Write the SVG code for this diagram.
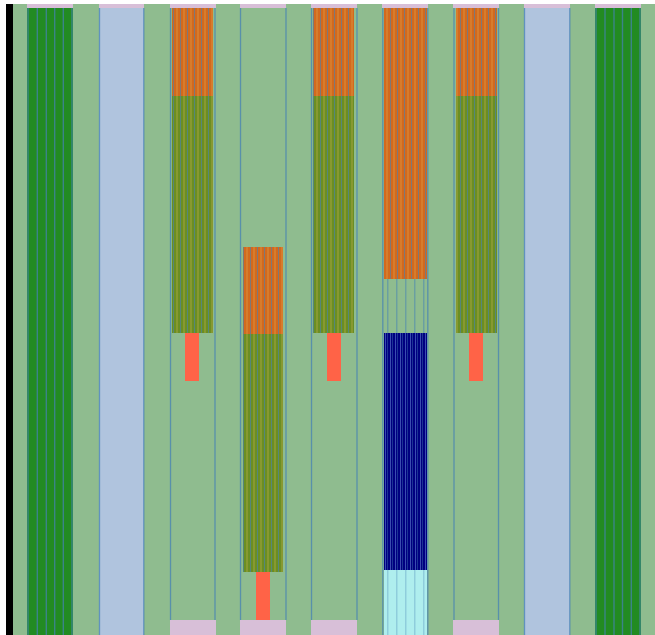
<svg xmlns="http://www.w3.org/2000/svg" width="655" height="635" viewBox="0 0 655 635">
<style>
.edge{stroke:#4682B4;stroke-width:1.3;stroke-opacity:0.75;fill:none}
.fg{stroke:#4682B4;stroke-width:1.4;stroke-opacity:0.7}
.pink{fill:#D8BFD8}
.orange{fill:#D2691E}
.olive{fill:#6B8E23}
.tomato{fill:#FF6347}
.navy{fill:#000080}
.turq{fill:#AFEEEE}
.lsb{fill:#B0C4DE}
.forest{fill:#228B22}
</style>
<defs>
<pattern id="stripes" patternUnits="userSpaceOnUse" x="172" y="0" width="7" height="20">
<rect x="1" y="0" width="1" height="20" fill="#4682B4" fill-opacity="0.6"/>
<rect x="4.5" y="0" width="1" height="20" fill="#E8C060" fill-opacity="0.45"/>
</pattern>
<pattern id="navystripes" patternUnits="userSpaceOnUse" x="384" y="0" width="5" height="20">
<rect x="1" y="0" width="1" height="20" fill="#6A8AD8" fill-opacity="0.55"/>
<rect x="3.2" y="0" width="0.8" height="20" fill="#4682B4" fill-opacity="0.5"/>
</pattern>
<pattern id="bluestripes" patternUnits="userSpaceOnUse" x="384" y="0" width="9" height="20">
<rect x="3" y="0" width="1.5" height="20" fill="#4682B4" fill-opacity="0.5"/>
</pattern>
</defs>
<rect x="0" y="0" width="655" height="635" fill="#ffffff"/>
<rect x="13" y="4" width="642" height="631" fill="#8FBC8F"/>
<rect x="6" y="4" width="7" height="631" fill="#000000"/>

<g id="col1">
<rect class="forest" x="27" y="8" width="46" height="627"/>
<line class="fg" x1="28" y1="8" x2="28" y2="635"/>
<line class="fg" x1="37.3" y1="8" x2="37.3" y2="635"/>
<line class="fg" x1="46.3" y1="8" x2="46.3" y2="635"/>
<line class="fg" x1="54.7" y1="8" x2="54.7" y2="635"/>
<line class="fg" x1="63.3" y1="8" x2="63.3" y2="635"/>
<line class="fg" x1="72" y1="8" x2="72" y2="635"/>
<rect class="pink" x="27" y="4" width="46" height="4"/>
</g>

<g id="col2">
<rect class="lsb" x="99" y="8" width="45" height="627"/>
<line class="edge" x1="99.5" y1="8" x2="99.5" y2="635"/>
<line class="edge" x1="143.8" y1="8" x2="143.8" y2="635"/>
<rect class="pink" x="99" y="4" width="45" height="4"/>
</g>

<g id="col3">
<rect class="orange" x="172" y="8" width="41" height="88"/>
<rect class="olive" x="172" y="96" width="41" height="237"/>
<rect x="172" y="8" width="41" height="325" fill="url(#stripes)"/>
<rect class="tomato" x="185" y="333" width="14" height="48"/>
<line class="edge" x1="170.5" y1="8" x2="170.5" y2="620"/>
<line class="edge" x1="215" y1="8" x2="215" y2="620"/>
<rect class="pink" x="170" y="4" width="46" height="4"/>
<rect class="pink" x="170" y="620" width="46" height="15"/>
</g>

<g id="col4">
<rect class="orange" x="243" y="247" width="40" height="87"/>
<rect class="olive" x="243" y="334" width="40" height="238"/>
<rect x="243" y="247" width="40" height="325" fill="url(#stripes)"/>
<rect class="tomato" x="256" y="572" width="14" height="48"/>
<line class="edge" x1="240.5" y1="8" x2="240.5" y2="620"/>
<line class="edge" x1="286" y1="8" x2="286" y2="620"/>
<rect class="pink" x="240" y="4" width="46" height="4"/>
<rect class="pink" x="240" y="620" width="46" height="15"/>
</g>

<g id="col5">
<rect class="orange" x="313" y="8" width="41" height="88"/>
<rect class="olive" x="313" y="96" width="41" height="237"/>
<rect x="313" y="8" width="41" height="325" fill="url(#stripes)"/>
<rect class="tomato" x="327" y="333" width="14" height="48"/>
<line class="edge" x1="311.5" y1="8" x2="311.5" y2="620"/>
<line class="edge" x1="357" y1="8" x2="357" y2="620"/>
<rect class="pink" x="311" y="4" width="46" height="4"/>
<rect class="pink" x="311" y="620" width="46" height="15"/>
</g>

<g id="col6">
<rect class="orange" x="384" y="8" width="43" height="271"/>
<rect x="384" y="8" width="43" height="271" fill="url(#stripes)"/>
<rect x="384" y="279" width="43" height="54" fill="url(#bluestripes)"/>
<rect class="navy" x="384" y="333" width="43" height="237"/>
<rect x="384" y="333" width="43" height="237" fill="url(#navystripes)"/>
<rect class="turq" x="384" y="570" width="43" height="65"/>
<rect x="384" y="570" width="43" height="65" fill="url(#bluestripes)" opacity="0.6"/>
<line class="edge" x1="382.8" y1="8" x2="382.8" y2="635"/>
<line class="edge" x1="427.8" y1="8" x2="427.8" y2="635"/>
<rect class="pink" x="382" y="4" width="46" height="4"/>
</g>

<g id="col7">
<rect class="orange" x="456" y="8" width="41" height="88"/>
<rect class="olive" x="456" y="96" width="41" height="237"/>
<rect x="456" y="8" width="41" height="325" fill="url(#stripes)"/>
<rect class="tomato" x="469" y="333" width="14" height="48"/>
<line class="edge" x1="454" y1="8" x2="454" y2="620"/>
<line class="edge" x1="498.5" y1="8" x2="498.5" y2="620"/>
<rect class="pink" x="453" y="4" width="46" height="4"/>
<rect class="pink" x="453" y="620" width="46" height="15"/>
</g>

<g id="col8">
<rect class="lsb" x="524" y="8" width="46" height="627"/>
<line class="edge" x1="524.5" y1="8" x2="524.5" y2="635"/>
<line class="edge" x1="569.8" y1="8" x2="569.8" y2="635"/>
<rect class="pink" x="524" y="4" width="46" height="4"/>
</g>

<g id="col9">
<rect class="forest" x="595" y="8" width="46" height="627"/>
<line class="fg" x1="596" y1="8" x2="596" y2="635"/>
<line class="fg" x1="605" y1="8" x2="605" y2="635"/>
<line class="fg" x1="614" y1="8" x2="614" y2="635"/>
<line class="fg" x1="622.5" y1="8" x2="622.5" y2="635"/>
<line class="fg" x1="631.3" y1="8" x2="631.3" y2="635"/>
<line class="fg" x1="640" y1="8" x2="640" y2="635"/>
<rect class="pink" x="595" y="4" width="46" height="4"/>
</g>
</svg>
